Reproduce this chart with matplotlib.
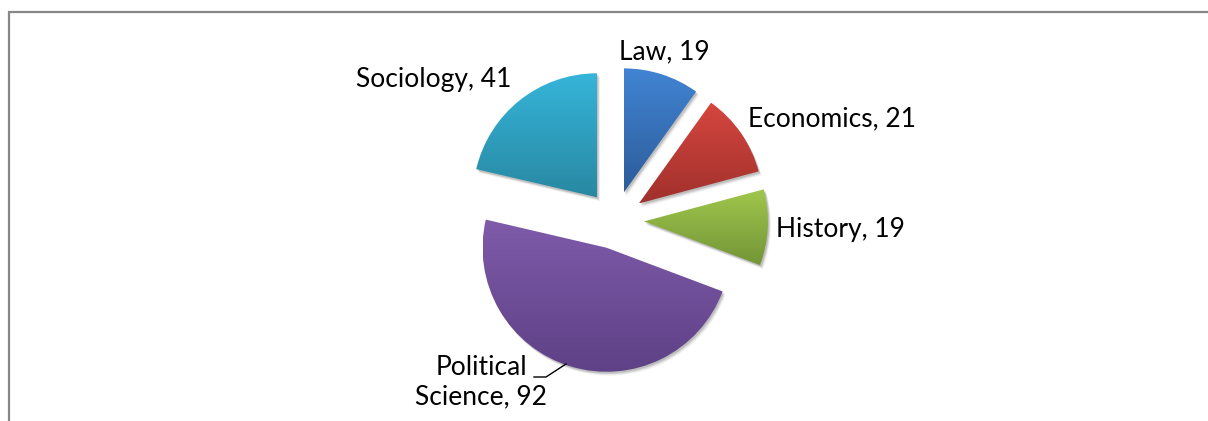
import matplotlib.pyplot as plt
import numpy as np
from matplotlib.colors import LinearSegmentedColormap
from matplotlib.patches import Rectangle, Wedge

labels = ['Law', 'Economics', 'History', 'Political\nScience', 'Sociology']
values = [19, 21, 19, 92, 41]
top_cols = ['#4184D3', '#D6463F', '#A0C74C', '#7F5BAA', '#36B5DA']
bot_cols = ['#2D5C9A', '#A1302C', '#739537', '#5E4186', '#2888A2']
# label centres in pixel coords (y from top)
label_pos = [(664, 52), (832, 119), (840, 229), (481, 382), (434, 80)]

W, H = 1208, 421
fig = plt.figure(figsize=(W / 100, H / 100), dpi=100)
ax = fig.add_axes([0, 0, 1, 1])

cx, cy, r = 615, H - 220, 124
wedges, _ = ax.pie(values, radius=r, center=(cx, cy), startangle=90,
                   counterclock=False, explode=[29] * 5, frame=True)

for i, w in enumerate(wedges):
    # soft shadow
    for k, a in zip([5, 4, 3, 2], [0.04, 0.06, 0.08, 0.10]):
        sh = Wedge((w.center[0] + k * 0.6, w.center[1] - k * 0.8), w.r,
                   w.theta1, w.theta2, facecolor='#000000', alpha=a,
                   edgecolor='none', zorder=1)
        ax.add_patch(sh)
    w.set_facecolor('none')
    w.set_edgecolor('none')
    w.set_zorder(3)
    bb = w.get_path().transformed(w.get_patch_transform()).get_extents()
    cmap = LinearSegmentedColormap.from_list('g%d' % i, [bot_cols[i], top_cols[i]])
    grad = np.linspace(0, 1, 256).reshape(-1, 1)
    im = ax.imshow(grad, cmap=cmap, origin='lower', aspect='auto',
                   extent=[bb.x0, bb.x1, bb.y0, bb.y1], zorder=2,
                   interpolation='bilinear')
    im.set_clip_path(w)

for lab, v, (x, y) in zip(labels, values, label_pos):
    ax.text(x, H - y, '%s, %d' % (lab, v), ha='center', va='center',
            fontsize=19, family='Lato', color='black', zorder=5,
            linespacing=1.2)

# leader line for Political Science
ax.plot([534, 546, 566], [H - 377, H - 377, H - 364], color='black', lw=1, zorder=5)

ax.set_xlim(0, W)
ax.set_ylim(0, H)
ax.axis('off')

# chart area border (left and top visible)
ax.add_patch(Rectangle((8.5, -10), W + 20, H - 11.5 + 10, fill=False,
                       edgecolor='#878787', lw=1.6, zorder=6))

fig.savefig('out.png', dpi=100)
